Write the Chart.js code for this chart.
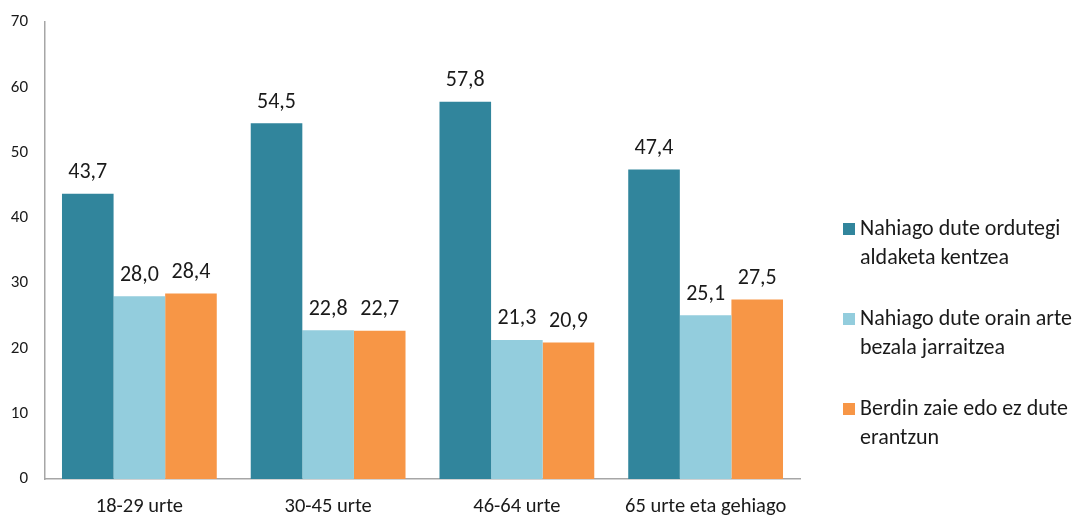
<!DOCTYPE html>
<html>
<head>
<meta charset="utf-8">
<script src="https://cdn.jsdelivr.net/npm/chart.js@4"></script>
<style>
  html, body { margin: 0; padding: 0; background: #ffffff; }
  #wrap { width: 1088px; height: 521px; position: relative; }
</style>
</head>
<body>
<div id="wrap"><canvas id="c" width="1088" height="521"></canvas></div>
<script>
const categories = ["18-29 urte", "30-45 urte", "46-64 urte", "65 urte eta gehiago"];
const seriesNames = [
  ["Nahiago dute ordutegi", "aldaketa kentzea"],
  ["Nahiago dute orain arte", "bezala jarraitzea"],
  ["Berdin zaie edo ez dute", "erantzun"]
];
const removeChange = [43.7, 54.5, 57.8, 47.4];
const keepAsNow = [28.0, 22.8, 21.3, 25.1];
const noAnswer = [28.4, 22.7, 20.9, 27.5];
const yTicks = [0, 10, 20, 30, 40, 50, 60, 70];
const colors = ["#31859C", "#93CDDD", "#F79646"];

const FONT = "Carlito, Calibri, Lato, sans-serif";
const TEXT = "#1a1a1a";

const dataLabels = {
  id: "dataLabels",
  afterDatasetsDraw(chart) {
    const ctx = chart.ctx;
    ctx.save();
    ctx.font = "22px " + FONT;
    ctx.fillStyle = TEXT;
    ctx.textAlign = "center";
    ctx.textBaseline = "bottom";
    chart.data.datasets.forEach((ds, i) => {
      const meta = chart.getDatasetMeta(i);
      meta.data.forEach((bar, j) => {
        const v = ds.data[j];
        ctx.fillText(v.toFixed(1).replace(".", ","), bar.x, bar.y - 10);
      });
    });
    ctx.restore();
  }
};

const sideLegend = {
  id: "sideLegend",
  afterDraw(chart) {
    const ctx = chart.ctx;
    const x0 = chart.chartArea.right + 43;
    const firstY = 229;
    const step = 90;
    const lineH = 29;
    ctx.save();
    ctx.font = "22px " + FONT;
    ctx.textAlign = "left";
    ctx.textBaseline = "middle";
    seriesNames.forEach((lines, i) => {
      const y = firstY + i * step;
      ctx.fillStyle = colors[i];
      ctx.fillRect(x0, y - 6, 12, 12);
      ctx.fillStyle = TEXT;
      lines.forEach((t, k) => ctx.fillText(t, x0 + 17, y + k * lineH));
    });
    ctx.restore();
  }
};

new Chart(document.getElementById("c"), {
  type: "bar",
  data: {
    labels: categories,
    datasets: [
      { label: seriesNames[0].join(" "), data: removeChange, backgroundColor: colors[0] },
      { label: seriesNames[1].join(" "), data: keepAsNow, backgroundColor: colors[1] },
      { label: seriesNames[2].join(" "), data: noAnswer, backgroundColor: colors[2] }
    ]
  },
  options: {
    responsive: false,
    animation: false,
    devicePixelRatio: 1,
    layout: { padding: { left: 0, top: 22, right: 288, bottom: 0 } },
    datasets: { bar: { categoryPercentage: 0.82, barPercentage: 1.0 } },
    plugins: {
      legend: { display: false },
      tooltip: { enabled: false }
    },
    scales: {
      x: {
        grid: { display: false, drawTicks: false },
        border: { display: true, color: "#A6A6A6", width: 1.5 },
        ticks: { color: TEXT, font: { family: FONT, size: 20.5 }, padding: 16, maxRotation: 0, autoSkip: false },
        afterFit(s) { s.height = 42; s.paddingLeft = 0; s.paddingRight = 0; }
      },
      y: {
        min: 0, max: 70,
        afterBuildTicks(s) { s.ticks = yTicks.map(v => ({ value: v })); },
        grid: { display: false, drawTicks: false },
        border: { display: true, color: "#A6A6A6", width: 1.5 },
        ticks: { color: TEXT, font: { family: FONT, size: 17 }, padding: 17 },
        afterFit(s) { s.width = 45; s.paddingTop = 0; s.paddingBottom = 0; }
      }
    }
  },
  plugins: [dataLabels, sideLegend]
});
</script>
</body>
</html>
